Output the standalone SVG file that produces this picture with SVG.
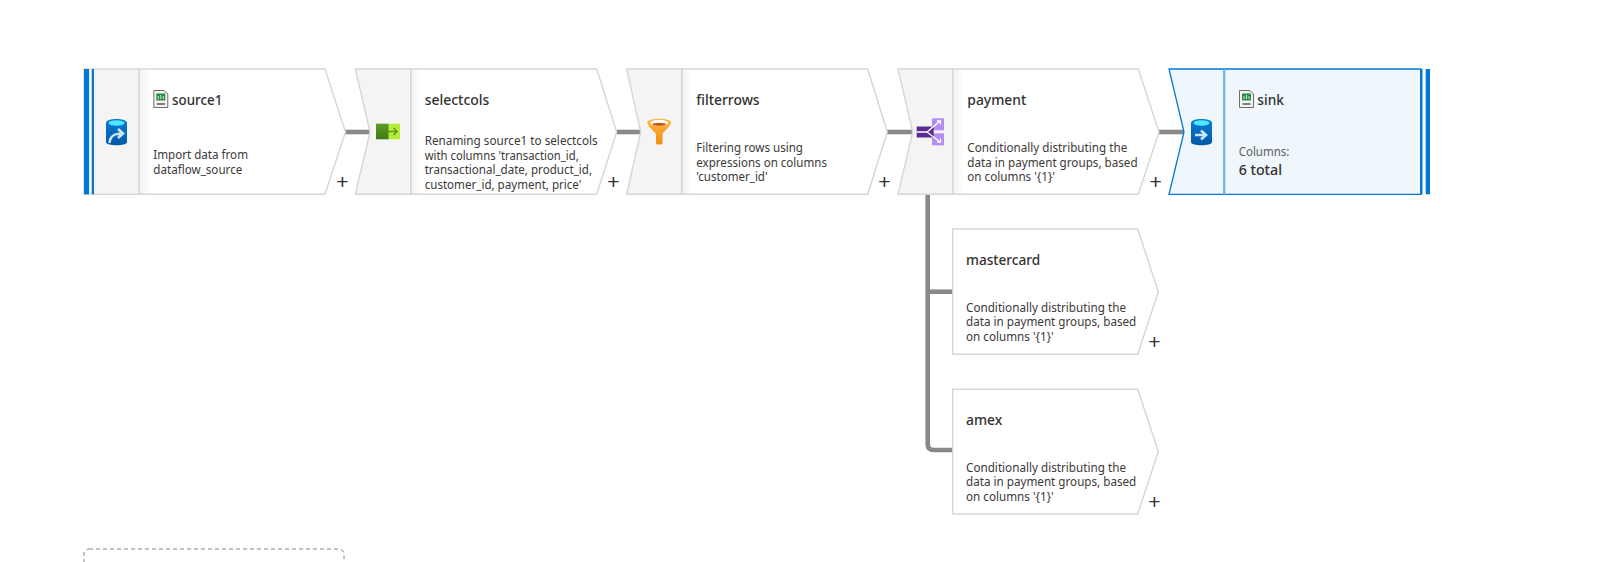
<svg xmlns="http://www.w3.org/2000/svg" xmlns:xlink="http://www.w3.org/1999/xlink" width="1598" height="562" viewBox="0 0 1598 562">
<style>
text{font-family:"Noto Sans","Open Sans","Liberation Sans",sans-serif;fill:#323130}
.t{font-size:14px;font-weight:500}
.d{font-size:12px;fill:#3b3a39}
.p{font-size:21px;text-anchor:middle;font-family:"Liberation Sans",sans-serif}
.body{fill:#fff;stroke:#d6d6d6;stroke-width:1.4}
.panel{fill:#f4f4f4;stroke:#d6d6d6;stroke-width:1.4}
.sinkb{fill:#eff6fc;stroke:#0078d4;stroke-width:1.3}
.bar{fill:#0078d4}
.c{fill:none;stroke:#8a8886;stroke-width:4.6}
</style>
<defs>
<linearGradient id="sh"><stop offset="0" stop-color="#000" stop-opacity=".05"/><stop offset="1" stop-color="#000" stop-opacity="0"/></linearGradient>
<linearGradient id="db" x1="0" y1="0" x2="0" y2="1"><stop offset="0" stop-color="#0a7bd6"/><stop offset="1" stop-color="#0458a5"/></linearGradient>
<linearGradient id="fn" x1="0" y1="0" x2="0" y2="1"><stop offset="0" stop-color="#fdb73c"/><stop offset="1" stop-color="#f28b16"/></linearGradient>
<linearGradient id="gr" x1="0" y1="0" x2="0" y2="1"><stop offset="0" stop-color="#5c9a26"/><stop offset="1" stop-color="#3f7a18"/></linearGradient>
<g id="csv">
<path d="M0.5 0.5H11L14.5 4V17.5H0.5Z" fill="#f3f2f1" stroke="#6b6f6c"/>
<rect x="3" y="3.5" width="9" height="7" fill="#2f8a45"/>
<path d="M5 9V6M7.5 9V5M10 9V6" stroke="#c9ecd2" stroke-width="1"/>
<rect x="3.500" y="13" width="8" height="2" fill="#7b7f7c"/>
</g>
<g id="cyl">
<path d="M0 4C0 -1.200 21 -1.200 21 4V23C21 27.300 0 27.300 0 23Z" fill="url(#db)"/>
<ellipse cx="10.500" cy="4" rx="8" ry="2.700" fill="#50e6ff"/>
</g>
</defs>

<g id="connectors">
<path class="c" d="M345 132H370"/>
<path class="c" d="M617 132H641"/>
<path class="c" d="M887 132H913"/>
<path class="c" d="M1159 132H1184"/>
<path class="c" d="M927.700 194V444Q927.700 450 933.700 450H953"/>
<path class="c" d="M927.700 291.700H953"/>
</g>

<g id="source1">
<path class="body" d="M139 69H325L345.500 132L325 194.300H139Z"/>
<rect class="panel" x="84" y="69" width="55" height="125.300"/>
<rect class="bar" x="84" y="69" width="5.300" height="125.300"/>
<rect x="89.300" y="69" width="2.400" height="125.300" fill="#fff"/>
<rect class="bar" x="91.700" y="69" width="2.300" height="125.300"/>
<rect x="140" y="70" width="10" height="124" fill="url(#sh)"/>
<use xlink:href="#cyl" href="#cyl" x="106" y="119"/>
<path d="M109.500 143C110 136 114 133.500 122 133.500M118 129L123 133.500L118 138" fill="none" stroke="#c7e6f7" stroke-width="2.600"/>
<use xlink:href="#csv" href="#csv" x="153.300" y="90"/>
<text class="t" x="172" y="105" textLength="50.300" lengthAdjust="spacingAndGlyphs">source1</text>
<text class="d" x="153.300" y="159" textLength="94.700" lengthAdjust="spacingAndGlyphs">Import data from</text>
<text class="d" x="153.300" y="174" textLength="89" lengthAdjust="spacingAndGlyphs">dataflow_source</text>
<text class="p" x="342.300" y="189">+</text>
</g>

<g id="selectcols">
<path class="body" d="M410.700 69H596.700L616.700 132L596.700 194.300H410.700Z"/>
<path class="panel" d="M355.300 69H410.700V194.300H355.300L370 132Z"/>
<rect x="411.700" y="70" width="10" height="124" fill="url(#sh)"/>
<rect x="388" y="123.700" width="12" height="15.600" fill="#b4ec36"/>
<rect x="376" y="123.700" width="12.500" height="15.600" fill="url(#gr)"/>
<path d="M387 131.500H397M393.500 128L397 131.500L393.500 135" fill="none" stroke="#5e9624" stroke-width="1.600"/>
<text class="t" x="424.700" y="105" textLength="64.700" lengthAdjust="spacingAndGlyphs">selectcols</text>
<text class="d" x="424.700" y="145" textLength="173" lengthAdjust="spacingAndGlyphs">Renaming source1 to selectcols</text>
<text class="d" x="424.700" y="159.500" textLength="154" lengthAdjust="spacingAndGlyphs">with columns 'transaction_id,</text>
<text class="d" x="424.700" y="174" textLength="167.300" lengthAdjust="spacingAndGlyphs">transactional_date, product_id,</text>
<text class="d" x="424.700" y="188.500" textLength="156.700" lengthAdjust="spacingAndGlyphs">customer_id, payment, price'</text>
<text class="p" x="613.300" y="189">+</text>
</g>

<g id="filterrows">
<path class="body" d="M681.700 69H867.700L887.300 132L867.700 194.300H681.700Z"/>
<path class="panel" d="M626.700 69H681.700V194.300H626.700L640.700 132Z"/>
<rect x="682.700" y="70" width="10" height="124" fill="url(#sh)"/>
<path d="M647.300 122.500C647.300 117.500 671 117.500 671 122.500C671 126 664 131 662.500 134V143Q662.500 144.500 661 144.500H658Q656 144.500 656 143V134C654 131 647.300 126 647.300 122.500Z" fill="url(#fn)"/>
<ellipse cx="659.200" cy="123" rx="9" ry="3.200" fill="#fff"/>
<ellipse cx="659.200" cy="124.300" rx="7" ry="1.600" fill="#c8590f"/>
<text class="t" x="696.300" y="105" textLength="63.300" lengthAdjust="spacingAndGlyphs">filterrows</text>
<text class="d" x="696.300" y="152" textLength="106.700" lengthAdjust="spacingAndGlyphs">Filtering rows using</text>
<text class="d" x="696.300" y="166.500" textLength="130.700" lengthAdjust="spacingAndGlyphs">expressions on columns</text>
<text class="d" x="696.300" y="181" textLength="71.300" lengthAdjust="spacingAndGlyphs">'customer_id'</text>
<text class="p" x="884.300" y="189">+</text>
</g>

<g id="payment">
<path class="body" d="M952.700 69H1138.300L1159 132L1138.300 194.300H952.700Z"/>
<path class="panel" d="M898 69H952.700V194.300H898L912.700 132Z"/>
<rect x="953.700" y="70" width="10" height="124" fill="url(#sh)"/>
<rect x="932" y="118.300" width="12" height="12" fill="#b48cf2"/>
<rect x="932" y="133.300" width="12" height="12" fill="#b48cf2"/>
<rect x="916.700" y="126.500" width="17" height="11" fill="#5c2d91"/>
<path d="M917 132H927L940 121M937 121H940.500V124.500M927 132L940 142M937 142H940.500V138.500" fill="none" stroke="#fff" stroke-width="1.300"/>
<text class="t" x="967.300" y="105" textLength="59" lengthAdjust="spacingAndGlyphs">payment</text>
<text class="d" x="967.300" y="152" textLength="160" lengthAdjust="spacingAndGlyphs">Conditionally distributing the</text>
<text class="d" x="967.300" y="166.500" textLength="170.300" lengthAdjust="spacingAndGlyphs">data in payment groups, based</text>
<text class="d" x="967.300" y="181" textLength="87.700" lengthAdjust="spacingAndGlyphs">on columns '{1}'</text>
<text class="p" x="1155.700" y="189">+</text>
</g>

<g id="sink">
<path class="sinkb" d="M1224.300 69H1420.700V194.300H1224.300Z"/>
<path class="sinkb" d="M1169 69H1224.300V194.300H1169L1184 132Z"/>
<path d="M1224.300 68.500V194.800" stroke="#6cb2e8" stroke-width="2"/>
<rect class="bar" x="1420.700" y="69" width="2" height="125.300"/>
<rect x="1422.700" y="69" width="3" height="125.300" fill="#fff"/>
<rect class="bar" x="1425.700" y="69" width="4.300" height="125.300"/>
<use xlink:href="#cyl" href="#cyl" x="1191" y="119"/>
<path d="M1195 135H1205M1201 130.500L1206 135L1201 139.500" fill="none" stroke="#c7e6f7" stroke-width="2.600"/>
<use xlink:href="#csv" href="#csv" x="1239" y="90"/>
<text class="t" x="1257.300" y="105" textLength="26.700" lengthAdjust="spacingAndGlyphs">sink</text>
<text class="d" x="1238.700" y="156" textLength="50.700" lengthAdjust="spacingAndGlyphs" style="fill:#605e5c">Columns:</text>
<text class="t" x="1238.700" y="175" textLength="43.300" lengthAdjust="spacingAndGlyphs">6 total</text>
</g>

<g id="mastercard">
<path class="body" d="M952.700 229H1137.700L1158.300 291.700L1137.700 354.300H952.700Z"/>
<text class="t" x="966" y="265" textLength="74.300" lengthAdjust="spacingAndGlyphs">mastercard</text>
<text class="d" x="966" y="311.500" textLength="160" lengthAdjust="spacingAndGlyphs">Conditionally distributing the</text>
<text class="d" x="966" y="326" textLength="170.300" lengthAdjust="spacingAndGlyphs">data in payment groups, based</text>
<text class="d" x="966" y="340.500" textLength="87.700" lengthAdjust="spacingAndGlyphs">on columns '{1}'</text>
<text class="p" x="1154.500" y="349">+</text>
</g>

<g id="amex">
<path class="body" d="M952.700 389.300H1137.700L1158.300 451.500L1137.700 514H952.700Z"/>
<text class="t" x="966" y="425" textLength="36.300" lengthAdjust="spacingAndGlyphs">amex</text>
<text class="d" x="966" y="471.500" textLength="160" lengthAdjust="spacingAndGlyphs">Conditionally distributing the</text>
<text class="d" x="966" y="486" textLength="170.300" lengthAdjust="spacingAndGlyphs">data in payment groups, based</text>
<text class="d" x="966" y="500.500" textLength="87.700" lengthAdjust="spacingAndGlyphs">on columns '{1}'</text>
<text class="p" x="1154.500" y="509">+</text>
</g>

<g id="comment-box">
<rect x="84" y="549" width="260" height="40" rx="5" fill="none" stroke="#8a8886" stroke-width="1" stroke-dasharray="4 3"/>
</g>
</svg>
